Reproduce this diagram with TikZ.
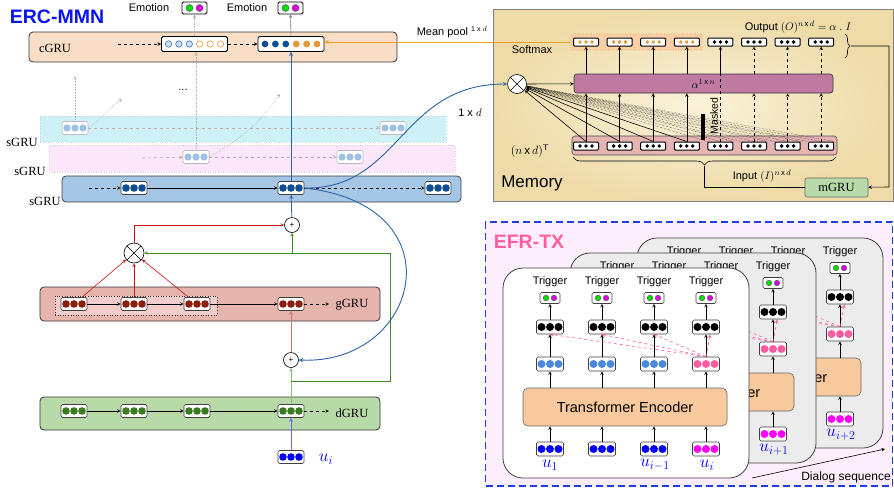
\documentclass[tikz,border=0pt]{standalone}
\usepackage{amsmath}
\usepackage{fontspec}
\setmainfont{Liberation Sans}
\newfontfamily\grufont{Liberation Serif}
\usepackage{tikz}
\usetikzlibrary{arrows}
\usetikzlibrary{calc}
\usetikzlibrary{positioning}
\usetikzlibrary{decorations.pathreplacing}

\definecolor{ercblue}{HTML}{0A14F0}
\definecolor{cgrufill}{HTML}{F8DEC6}
\definecolor{cyanband}{HTML}{CDF1F6}
\definecolor{pinkband}{HTML}{FCE6FA}
\definecolor{sgrufill}{HTML}{A6C6E6}
\definecolor{navydot}{HTML}{0E4E94}
\definecolor{palefill}{HTML}{9EC0E4}
\definecolor{orangedot}{HTML}{E8963A}
\definecolor{ggrufill}{HTML}{E5B5AD}
\definecolor{ginner}{HTML}{F2CDCB}
\definecolor{reddot}{HTML}{8A1E0E}
\definecolor{dgrufill}{HTML}{B8DAA8}
\definecolor{greendot}{HTML}{3A7A20}
\definecolor{redline}{HTML}{C81414}
\definecolor{softred}{HTML}{D47272}
\definecolor{greenline}{HTML}{3E8C22}
\definecolor{curveblue}{HTML}{2A64A6}
\definecolor{memlight}{HTML}{FAF2DA}
\definecolor{memdark}{HTML}{EEDBA8}
\definecolor{alphafill}{HTML}{C07AA2}
\definecolor{inrow}{HTML}{E6B5B3}
\definecolor{softmaxfill}{HTML}{F8CFA6}
\definecolor{poolline}{HTML}{F5A020}
\definecolor{efrfill}{HTML}{FDEEFC}
\definecolor{efrborder}{HTML}{1E3CE0}
\definecolor{efrpink}{HTML}{FF5FA2}
\definecolor{cardgray}{HTML}{ECECEC}
\definecolor{encfill}{HTML}{F8C99C}
\definecolor{midblue}{HTML}{4A88DE}
\definecolor{hotpink}{HTML}{FF5CA0}
\definecolor{inblue}{HTML}{0000FF}
\definecolor{inmag}{HTML}{FF00FF}
\definecolor{emogreen}{HTML}{00E000}
\definecolor{emomag}{HTML}{E000E0}

\tikzset{
	ercmmn/.style = {
		>=stealth, x=1pt, y=-1pt, line width=0.6pt, font=\fontsize{11}{13}\selectfont,
	},
	lane/.style = {draw=black!80, line width=0.8pt, rounded corners=4pt, inner sep=0pt},
	band/.style = {draw=gray!35, dotted, inner sep=0pt},
	vec/.style = {draw=black!75, fill=white, rounded corners=1.5pt, inner sep=0pt, minimum width=26pt, minimum height=13pt},
	pvec/.style = {vec, draw=gray!55},
	wvec/.style = {vec, draw=black, line width=0.9pt, minimum width=66pt, minimum height=15pt},
	emo/.style = {vec, draw=black, line width=0.9pt, minimum width=25pt, minimum height=12pt},
	mvec/.style = {draw=black, line width=1pt, fill=white, rounded corners=1pt, inner sep=0pt, minimum width=25pt, minimum height=8pt},
	tvec/.style = {vec, minimum width=27pt, minimum height=14pt},
	temo/.style = {vec, minimum width=20pt, minimum height=11pt},
	op/.style = {draw, circle, fill=white, inner sep=0pt, minimum size=15pt, font=\fontsize{8}{8}\selectfont},
	gru/.style = {font=\grufont\fontsize{12.5}{14}\selectfont},
	card/.style = {draw=black!75, line width=0.8pt, rounded corners=20pt, minimum width=246pt, minimum height=210pt},
	enc/.style = {draw=black!60, fill=encfill, rounded corners=5pt, minimum width=204pt, minimum height=38pt, font=\fontsize{14.5}{16}\selectfont},
	ulab/.style = {text=inblue, font=\fontsize{17}{18}\selectfont},
	gdot/.style = {gray!60, densely dotted},
	gdash/.style = {gray!60, dashed},
}

\newcommand\dotrow[5]{%
	\foreach \dj in {1,...,#2}
		\path[#5] ($(#1)+({(\dj-(#2+1)/2)*#3},0)$) circle[radius=#4pt];}
\newcommand\emodots[3]{%
	\path[draw=black!60, fill=emogreen] ($(#1)+(-#2/2,0)$) circle[radius=#3pt];
	\path[draw=black!60, fill=emomag] ($(#1)+(#2/2,0)$) circle[radius=#3pt];}

\newcommand\efrcard[8]{%
	\begin{scope}[shift={(#2,#3)}]
		\node[card, fill=#4] (card#1) at (626,373) {};
		\node[enc] (enc#1) at (625,407) {Transformer Encoder};
		\foreach \col/\x/\mc/\ic in {1/550/midblue/inblue,2/602/midblue/inblue,3/654/midblue/inblue,4/706/hotpink/inmag} {
			\node (tt#1\col) at (\x,282) {Trigger};
			\node[temo] (te#1\col) at (\x,298) {};
			\node[tvec] (tb#1\col) at (\x,327) {};
			\node[tvec] (mb#1\col) at (\x,364) {};
			\node[tvec] (in#1\col) at (\x,449) {};
			\emodots{te#1\col}{8}{2.8}
			\dotrow{tb#1\col}{3}{8.5}{4}{fill=black}
			\dotrow{mb#1\col}{3}{8.5}{4}{fill=\mc}
			\dotrow{in#1\col}{3}{8.5}{4}{fill=\ic}
			\draw[->] (in#1\col) -- (in#1\col |- enc#1.south);
			\draw[->] (in#1\col |- enc#1.north) -- (mb#1\col);
			\draw[->] (mb#1\col) -- (tb#1\col);
			\draw[->] (tb#1\col) -- (te#1\col);
		}
		\foreach \col in {1,2,3}
			\draw[hotpink, dashed, ->] (mb#14.north) -- (tb#1\col.south);
		\draw[hotpink, dashed, ->] (mb#14.north) -- (tb#14.-60);
		\node[ulab] (ul#11) at (550,465) {#5};
		\node[ulab] (ul#12) at (602,465) {#6};
		\node[ulab] (ul#13) at (655,465) {#7};
		\node[ulab] (ul#14) at (707,465) {#8};
	\end{scope}}

\begin{document}
\begin{tikzpicture}[ercmmn]
	\useasboundingbox (0,0) rectangle (894,493);

	% ERC-MMN
	\node[font=\bfseries\fontsize{19.5}{22}\selectfont, text=ercblue] (ercmmnt) at (57,17) {ERC-MMN};
	\node (emo1) at (149,8) {Emotion};
	\node[emo] (e1) at (194.5,8) {};
	\node (emo2) at (247,8) {Emotion};
	\node[emo] (e2) at (290.5,8) {};
	\emodots{e1}{10}{3.5}
	\emodots{e2}{10}{3.5}

	\node[lane, fill=cgrufill, minimum width=368, minimum height=30] (cgru) at (213,47) {};
	\node[gru] (cgrut) at (55,48) {cGRU};
	\node[wvec] (c1) at (194.5,44) {};
	\node[wvec] (c2) at (291,44) {};
	\coordinate (c1l) at ($(c1)+(-15.6,0)$);
	\coordinate (c1r) at ($(c1)+(15.6,0)$);
	\coordinate (c2l) at ($(c2)+(-15.6,0)$);
	\coordinate (c2r) at ($(c2)+(15.6,0)$);
	\dotrow{c1l}{3}{10.4}{3.2}{draw=navydot!80, fill=palefill!50}
	\dotrow{c1r}{3}{10.4}{3.2}{draw=orangedot, fill=white}
	\dotrow{c2l}{3}{10.4}{3.4}{fill=navydot}
	\dotrow{c2r}{3}{10.4}{3.4}{fill=orangedot}
	\coordinate (cin) at (118,44);
	\draw[dashed, ->] (cin) -- (c1);
	\draw[dashed, ->] (c1) -- (c2);
	\draw[gdot, ->] (c1) -- (e1);
	\draw[gray, ->] (c2) -- (e2);

	\node[band, fill=cyanband, minimum width=406, minimum height=26] (sband3) at (243,129) {};
	\node[band, fill=pinkband, minimum width=406, minimum height=27] (sband2) at (252,158.5) {};
	\node[lane, draw=black!75, fill=sgrufill, minimum width=399, minimum height=26] (sband1) at (261.5,189) {};
	\node[gru] (sl3) at (22,142) {sGRU};
	\node[gru] (sl2) at (30,171) {sGRU};
	\node[gru] (sl1) at (45,201) {sGRU};

	\node[pvec] (s3a) at (75,128) {};
	\node[pvec] (s3b) at (393,128) {};
	\node[pvec] (s2a) at (196,157) {};
	\node[pvec] (s2b) at (350,157) {};
	\foreach \n in {s3a,s3b,s2a,s2b} {
		\dotrow{\n}{3}{8}{3.6}{fill=palefill}
	}
	\node[vec] (s1a) at (134,188) {};
	\node[vec] (s1b) at (291,188) {};
	\node[vec] (s1c) at (438,188) {};
	\foreach \n in {s1a,s1b,s1c} {
		\dotrow{\n}{3}{8}{3.8}{fill=navydot}
	}

	\coordinate (up3) at (75,76);
	\coordinate (up3r) at (122,99);
	\coordinate (up2r) at (280,94);
	\coordinate (s2in) at (142,158);
	\coordinate (s1in) at (89,188);
	\draw[gdot, ->] (s3a) -- (up3);
	\draw[gdot, ->] (s3a.east) to[out=35, in=215] (up3r);
	\draw[gdot, ->] (s2a.north) -- (s2a.north |- c1.south);
	\draw[gdot, ->] (s2a.east) to[out=30, in=235] (up2r);
	\node (ellip) at (183,90) {...};
	\draw[gdash, ->] (s3a) -- (s3b);
	\draw[gdash, ->] (s2in) -- (s2a);
	\draw[gdash, ->] (s2a) -- (s2b);
	\draw[dashed, ->] (s1in) -- (s1a);
	\draw[->] (s1a) -- (s1b);
	\draw[dashed, ->] (s1b) -- (s1c);

	% gGRU and dGRU
	\node[lane, fill=ggrufill, minimum width=340, minimum height=34] (glane) at (210,304) {};
	\node[draw=black!80, dotted, fill=ginner, inner sep=0pt, minimum width=162, minimum height=19] (gwin) at (136,305.5) {};
	\node[lane, fill=dgrufill, minimum width=340, minimum height=33] (dlane) at (210,413.5) {};
	\node[gru] (gl) at (352,305) {gGRU};
	\node[gru] (dl) at (352,413) {dGRU};
	\foreach \i/\x in {1/74,2/134,3/197,4/291} {
		\node[vec] (g\i) at (\x,304) {};
		\node[vec] (d\i) at (\x,411) {};
		\dotrow{g\i}{3}{8}{3.8}{fill=reddot}
		\dotrow{d\i}{3}{8}{3.8}{fill=greendot}
	}
	\draw[->] (g1) -- (g2);
	\draw[->] (g2) -- (g3);
	\draw[->] (g3) -- (g4);
	\draw[->] (d1) -- (d2);
	\draw[->] (d2) -- (d3);
	\draw[->] (d3) -- (d4);
	\coordinate (gout) at (329,304);
	\coordinate (dout) at (329,411);
	\draw[dashed, ->] (g4) -- (gout);
	\draw[dashed, ->] (d4) -- (dout);

	\node[vec] (ui) at (291,457) {};
	\dotrow{ui}{3}{8}{3.8}{fill=inblue}
	\node[ulab, font=\fontsize{18}{20}\selectfont] (uil) at (326,459) {$u_i$};
	\draw[inblue!60, line width=0.9pt, ->] (ui) -- (d4);

	\node[op] (pl1) at (292,225) {+};
	\node[op] (pl2) at (291,360) {+};
	\node[op, minimum size=20] (mul) at (134,253) {};
	\draw (mul.north east) -- (mul.south west) (mul.north west) -- (mul.south east);

	\draw[redline, ->] (g1) -- (mul);
	\draw[redline, ->] (g2) -- (mul);
	\draw[redline, ->] (g3) -- (mul);
	\draw[redline, ->] (mul) |- (pl1);
	\draw[softred, line width=0.9pt, ->] (pl2) -- (g4);

	\coordinate (gsplit) at (291,381);
	\coordinate (gtop) at (390,253);
	\coordinate (gmid) at (292,253);
	\draw[greenline!60, line width=0.9pt, ->] (d4) -- (pl2);
	\draw[greenline, ->] (gsplit) -| (gtop) -- (mul);
	\draw[greenline, ->] (gmid) -- (pl1);
	\draw[curveblue, line width=0.8pt, ->] (pl1) -- (s1b);
	\draw[curveblue, line width=0.8pt, ->] (s1b) -- (c2);

	% Memory
	\node[draw=gray, line width=1pt, inner color=memlight, outer color=memdark, inner sep=0pt, minimum width=400, minimum height=192] (mem) at (693,105) {};
	\node[font=\fontsize{17}{20}\selectfont] (memt) at (532,183) {Memory};
	\node[draw=orangedot, dotted, fill=softmaxfill, rounded corners=1pt, inner sep=0pt, minimum width=131, minimum height=16] (sm) at (636.5,42) {};
	\node (smt) at (532,50) {Softmax};
	\node[draw=black!70, fill=inrow, rounded corners=3pt, inner sep=0pt, minimum width=265, minimum height=19] (inrowb) at (704.5,145.5) {};
	\node[draw=black!80, fill=alphafill, rounded corners=3pt, inner sep=0pt, minimum width=259, minimum height=19] (alpha) at (703.5,83.5) {$\alpha^{1\,\mathrm{x}\,n}$};
	\foreach \k in {1,...,8} {
		\pgfmathsetmacro\colx{586+33.6*(\k-1)}
		\node[mvec] (o\k) at (\colx,42) {};
		\node[mvec] (m\k) at (\colx,146) {};
		\dotrow{m\k}{3}{6}{1.9}{fill=black}
	}
	\foreach \k in {1,...,4} {
		\dotrow{o\k}{3}{6}{1.9}{fill=orangedot}
	}
	\foreach \k in {5,...,8} {
		\dotrow{o\k}{3}{6}{1.9}{fill=black}
	}
	\node[op, minimum size=19] (mx) at (517,84) {};
	\draw (mx.north east) -- (mx.south west) (mx.north west) -- (mx.south east);
	\draw[->] (mx) -- (alpha);

	\foreach \k in {1,...,4} {
		\draw[->] (m\k) -- (m\k |- alpha.south);
		\draw[->] (m\k |- alpha.north) -- (o\k);
		\draw[->] (m\k.north) -- (mx);
	}
	\draw[dashed] (m5) -- (m5 |- alpha.north);
	\draw[->] (m5 |- alpha.north) -- (o5);
	\foreach \k in {6,7,8} {
		\draw[dashed, ->] (m\k) -- (m\k |- alpha.south);
		\draw[dashed, ->] (m\k |- alpha.north) -- (o\k);
	}
	\foreach \k in {5,...,8} {
		\draw[densely dotted, thin] (m\k.north west) -- (mx);
		\draw[densely dotted, thin] (m\k.north) -- (mx);
		\draw[densely dotted, thin] (m\k.north east) -- (mx);
	}
	\node[fill=black, inner sep=0pt, minimum width=3.5, minimum height=26] (maskbar) at (703,127) {};
	\node[rotate=90, font=\fontsize{10.5}{12}\selectfont] (maskt) at (714,116) {Masked};
	\node[font=\fontsize{11.5}{13}\selectfont] (ndt) at (530,151) {$(n\,\mathrm{x}\,d)^{\mathsf{T}}$};

	\node (outl) at (798,27) {Output $(O)^{n\,\mathrm{x}\,d} = \alpha\ .\ I$};
	\coordinate (obt) at (845,34);
	\coordinate (obb) at (845,58);
	\draw[decorate, decoration={brace, amplitude=5pt}] (obt) -- (obb);
	\coordinate (ibl) at (573,157);
	\coordinate (ibr) at (836,157);
	\draw[decorate, decoration={brace, mirror, amplitude=8pt}] (ibl) -- (ibr);
	\node[draw=black!60, fill=dgrufill, rounded corners=2pt, inner sep=0pt, minimum width=63, minimum height=19, gru] (mgru) at (836.5,187.5) {mGRU};
	\node (inl) at (762,176) {Input $(I)^{n\,\mathrm{x}\,d}$};
	\coordinate (otip) at (851,46);
	\coordinate (rc) at (889,187);
	\coordinate (itip) at (704.5,166);
	\draw[->] (otip) -| (rc) -- (mgru);
	\draw (mgru) -| (itip);

	% links between the parts
	\draw[poolline, line width=0.9pt, ->] (sm.west) -- (sm.west -| c2.east);
	\node (mpool) at (452,32) {Mean pool \textsuperscript{\fontsize{7}{8}\selectfont 1 x $d$}};
	\draw[curveblue, line width=0.9pt, ->] (s1b.east) .. controls (400,190) and (400,84) .. (mx.west);
	\draw[curveblue, line width=0.9pt, ->] (s1b.east) .. controls (460,205) and (420,365) .. (pl2.east);
	\node (onexd) at (470,113) {1 x $d$};

	% EFR-TX
	\node[draw=efrborder, dash pattern=on 7pt off 4pt, line width=1.3pt, fill=efrfill, inner sep=0pt, minimum width=407, minimum height=264] (efr) at (689,354) {};
	\node[font=\bfseries\fontsize{19.5}{22}\selectfont, text=efrpink] (efrt) at (529,242) {EFR-TX};
	\efrcard{B}{134}{-30}{cardgray}{}{}{}{$u_{i+2}$}
	\efrcard{M}{67}{-15}{cardgray}{}{}{}{$u_{i+1}$}
	\efrcard{F}{0}{0}{white}{$u_1$}{}{$u_{i-1}$}{$u_i$}
	\coordinate (dsa) at (752,478);
	\coordinate (dsb) at (885,449);
	\draw[->] (dsa) -- (dsb);
	\node[font=\fontsize{12}{14}\selectfont] (dst) at (846,477) {Dialog sequence};
\end{tikzpicture}
\end{document}
